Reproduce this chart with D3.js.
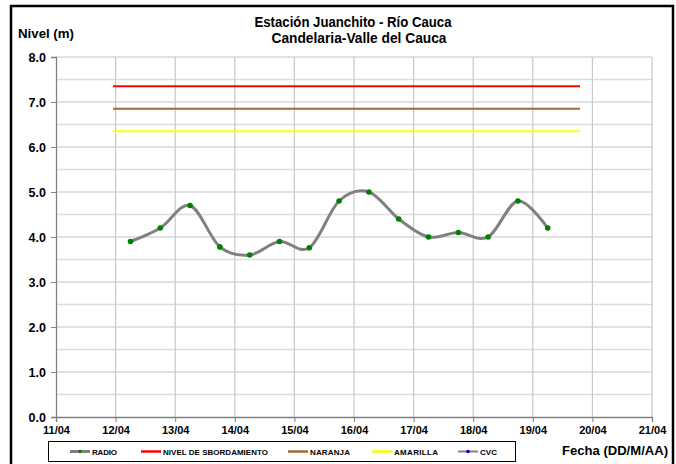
<!DOCTYPE html>
<html><head><meta charset="utf-8">
<script src="https://cdn.jsdelivr.net/npm/d3@7"></script>
<style>
html,body{margin:0;padding:0;background:#fff;}
svg{display:block;font-family:"Liberation Sans",Arial,sans-serif;}
</style></head>
<body><svg id="c" width="676" height="464"></svg>
<script>
// ---- data ----
const radioTimes = ["2011-04-12T06:00","2011-04-12T18:00","2011-04-13T06:00","2011-04-13T18:00",
  "2011-04-14T06:00","2011-04-14T18:00","2011-04-15T06:00","2011-04-15T18:00","2011-04-16T06:00",
  "2011-04-16T18:00","2011-04-17T06:00","2011-04-17T18:00","2011-04-18T06:00","2011-04-18T18:00",
  "2011-04-19T06:00"];
const radioValues = [3.9,4.2,4.7,3.78,3.6,3.9,3.76,4.8,5.0,4.4,4.0,4.1,4.0,4.8,4.2];
const cvcTimes = [];
const cvcValues = [];
const thresholdNames = ["NIVEL DE SBORDAMIENTO","NARANJA","AMARILLA"];
const thresholdValues = [7.35,6.85,6.35];
const thresholdStart = "2011-04-11T23:00";
const thresholdEnd = "2011-04-19T19:00";
const xTickDates = ["2011-04-11","2011-04-12","2011-04-13","2011-04-14","2011-04-15","2011-04-16",
  "2011-04-17","2011-04-18","2011-04-19","2011-04-20","2011-04-21"];
const yTicks = [0,1,2,3,4,5,6,7,8];
const legendLabels = ["RADIO","NIVEL DE SBORDAMIENTO","NARANJA","AMARILLA","CVC"];
const titleLines = ["Estación Juanchito - Río Cauca","Candelaria-Valle del Cauca"];

// ---- setup ----
const parse = d3.utcParse("%Y-%m-%dT%H:%M");
const parseD = d3.utcParse("%Y-%m-%d");
const svg = d3.select("#c");
const L=56, R=652, T=57, B=417;
const x = d3.scaleUtc().domain([parseD(xTickDates[0]), parseD(xTickDates[xTickDates.length-1])]).range([L,R]);
const y = d3.scaleLinear().domain([0,8]).range([B,T]);

// outer frame
svg.append("path").attr("d",`M11,470 V6 H673 V470`).attr("fill","none").attr("stroke","#000").attr("stroke-width",2.5);

// grid
const g = svg.append("g");
const minor = d3.range(0.5,8,1);
g.selectAll(".hm").data(minor).join("line").attr("x1",L).attr("x2",R)
  .attr("y1",d=>y(d)).attr("y2",d=>y(d)).attr("stroke","#dcdcdc").attr("stroke-width",1.5);
g.selectAll(".hM").data(yTicks.slice(1)).join("line").attr("x1",L).attr("x2",R)
  .attr("y1",d=>y(d)).attr("y2",d=>y(d)).attr("stroke","#c4c4c4").attr("stroke-width",1.2);
g.selectAll(".v").data(xTickDates.slice(1)).join("line")
  .attr("x1",d=>x(parseD(d))).attr("x2",d=>x(parseD(d))).attr("y1",T).attr("y2",B)
  .attr("stroke","#c8c8c8").attr("stroke-width",1.2);

// axes
const yAxis = d3.axisLeft(y).tickValues(yTicks).tickFormat(d3.format(".1f")).tickSize(5).tickPadding(5);
const ya = svg.append("g").attr("transform",`translate(${L},0)`).call(yAxis);
ya.select(".domain").attr("stroke","#808080").attr("stroke-width",1.3);
ya.selectAll(".tick line").attr("stroke","#808080");
ya.selectAll("text").attr("font-size",12.5).attr("font-weight","bold").attr("fill","#000");

const xAxis = d3.axisBottom(x).tickValues(xTickDates.map(parseD)).tickFormat(d3.utcFormat("%d/%m")).tickSize(5).tickPadding(4);
const xa = svg.append("g").attr("transform",`translate(0,${B})`).call(xAxis);
xa.select(".domain").attr("stroke","#808080").attr("stroke-width",1.3);
xa.selectAll(".tick line").attr("stroke","#808080");
xa.selectAll("text").attr("font-size",11).attr("font-weight","bold").attr("fill","#000");

// thresholds
const thColors = ["#ff0000","#a0693c","#ffff00"];
svg.selectAll(".th").data(thresholdValues).join("line")
  .attr("x1",x(parse(thresholdStart))).attr("x2",x(parse(thresholdEnd)))
  .attr("y1",d=>y(d)).attr("y2",d=>y(d)).attr("stroke",(d,i)=>thColors[i]).attr("stroke-width",2.2);

// radio series
const pts = radioTimes.map((t,i)=>[parse(t),radioValues[i]]);
const line = d3.line().x(d=>x(d[0])).y(d=>y(d[1])).curve(d3.curveCatmullRom.alpha(0));
svg.append("path").datum(pts).attr("d",line).attr("fill","none").attr("stroke","#808080").attr("stroke-width",3);
svg.selectAll(".pt").data(pts).join("circle").attr("cx",d=>x(d[0])).attr("cy",d=>y(d[1])).attr("r",2.8).attr("fill","#008000");

// CVC (no data)
const cpts = cvcTimes.map((t,i)=>[parse(t),cvcValues[i]]);
svg.append("path").datum(cpts).attr("d",line).attr("fill","none").attr("stroke","#808080").attr("stroke-width",2);

// titles
const fitText = (sel,w,mode)=>sel.attr("textLength",w).attr("lengthAdjust",mode||"spacingAndGlyphs");
svg.append("text").attr("x",353).attr("y",27).attr("text-anchor","middle").attr("font-size",14).attr("font-weight","bold").text(titleLines[0]).call(fitText,197);
svg.append("text").attr("x",359).attr("y",43).attr("text-anchor","middle").attr("font-size",14).attr("font-weight","bold").text(titleLines[1]).call(fitText,175);
svg.append("text").attr("x",18).attr("y",38).attr("font-size",12.5).attr("font-weight","bold").text("Nivel (m)").call(fitText,56);
svg.append("text").attr("x",562).attr("y",455).attr("font-size",13).attr("font-weight","bold").text("Fecha (DD/M/AA)").call(fitText,106);

// legend
svg.append("rect").attr("x",48.5).attr("y",441.5).attr("width",467).attr("height",20).attr("fill","#fff").attr("stroke","#000").attr("stroke-width",1);
const legColors = ["#808080","#ff0000","#a0693c","#ffff00","#808080"];
const legX = [70,141,288,372,458];
const legW = [25,105,40,44,17];
const lg = svg.append("g");
legendLabels.forEach((lab,i)=>{
  lg.append("line").attr("x1",legX[i]).attr("x2",legX[i]+20).attr("y1",451.5).attr("y2",451.5)
    .attr("stroke",legColors[i]).attr("stroke-width",i===0?3:(i===4?2:2.5));
  if(i===0) lg.append("circle").attr("cx",legX[i]+10).attr("cy",451.5).attr("r",1.8).attr("fill","#008000");
  if(i===4) lg.append("circle").attr("cx",legX[i]+10).attr("cy",451.5).attr("r",1.8).attr("fill","#0000ff");
  lg.append("text").attr("x",legX[i]+22).attr("y",455).attr("font-size",8).attr("font-weight","bold").text(lab).call(fitText,legW[i],"spacing");
});
</script></body></html>
